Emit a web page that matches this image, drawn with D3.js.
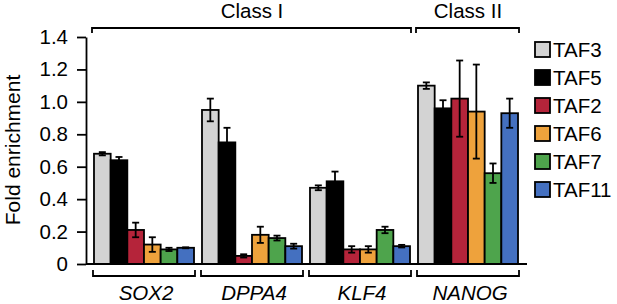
<!DOCTYPE html>
<html>
<head>
<meta charset="utf-8">
<script src="https://cdn.jsdelivr.net/npm/d3@7"></script>
<style>
  body { margin: 0; background: #fff; }
  svg text { font-family: "Liberation Sans", Arial, Helvetica, sans-serif; fill: #000; }
</style>
</head>
<body>
<div id="chart"></div>
<script>
// genes and class groups
const genes = ["SOX2", "DPPA4", "KLF4", "NANOG"];
const classes = [
    {name: "Class I", genes: ["SOX2", "DPPA4", "KLF4"]},
    {name: "Class II", genes: ["NANOG"]}
];
const series = ["TAF3", "TAF5", "TAF2", "TAF6", "TAF7", "TAF11"];
const colors = ["#d3d3d3", "#000000", "#b5243a", "#eea23c", "#4ea44c", "#4470c0"];

// values per gene, in series order
const values = {
    SOX2:  [0.68, 0.64, 0.21, 0.12, 0.09, 0.10],
    DPPA4: [0.95, 0.75, 0.05, 0.18, 0.16, 0.11],
    KLF4:  [0.47, 0.51, 0.09, 0.09, 0.21, 0.11],
    NANOG: [1.10, 0.96, 1.02, 0.94, 0.56, 0.93]
};
const errors = {
    SOX2:  [0.010, 0.020, 0.045, 0.045, 0.010, 0.003],
    DPPA4: [0.070, 0.090, 0.010, 0.050, 0.015, 0.015],
    KLF4:  [0.015, 0.060, 0.020, 0.020, 0.020, 0.008],
    NANOG: [0.020, 0.050, 0.235, 0.290, 0.060, 0.090]
};
const yTicks = [0, 0.2, 0.4, 0.6, 0.8, 1.0, 1.2, 1.4];

const width = 617, height = 304;
const fs = "20.5px";
const sw = 1.8;   // line weight

const svg = d3.select("#chart")
    .append("svg")
    .attr("width", width)
    .attr("height", height);

// scales
const x = d3.scaleBand()
    .domain(genes)
    .range([86, 526])
    .padding(0.074);

const xInner = d3.scaleBand()
    .domain(series)
    .range([0, x.bandwidth()]);

const y = d3.scaleLinear()
    .domain([0, 1.4])
    .range([264, 37]);

const color = d3.scaleOrdinal()
    .domain(series)
    .range(colors);

// y axis
const yAxis = d3.axisLeft(y)
    .tickValues(yTicks)
    .tickSize(9)
    .tickSizeOuter(0)
    .tickPadding(9)
    .tickFormat(d => d === 0 ? "0" : d3.format(".1f")(d));

const gy = svg.append("g")
    .attr("class", "y-axis")
    .attr("transform", "translate(86,0)")
    .call(yAxis);

gy.selectAll("path, line").attr("stroke", "#000").attr("stroke-width", sw);
gy.selectAll("text")
    .style("font-size", fs)
    .attr("fill", "#000");

svg.append("text")
    .attr("transform", "translate(20,150) rotate(-90)")
    .attr("text-anchor", "middle")
    .style("font-size", "21px")
    .text("Fold enrichment");

// flatten data
const flat = [];
genes.forEach(g => {
    series.forEach((s, i) => {
        flat.push({gene: g, key: s, value: values[g][i], err: errors[g][i]});
    });
});

// bars
svg.selectAll(".bar")
    .data(flat)
    .enter()
    .append("rect")
    .attr("class", "bar")
    .attr("x", d => x(d.gene) + xInner(d.key))
    .attr("y", d => y(d.value))
    .attr("width", xInner.bandwidth())
    .attr("height", d => y(0) - y(d.value))
    .attr("fill", d => color(d.key))
    .attr("stroke", "#000")
    .attr("stroke-width", sw);

// error bars
const cap = 3.5;
const cx = d => x(d.gene) + xInner(d.key) + xInner.bandwidth() / 2;
const eb = svg.selectAll(".err")
    .data(flat)
    .enter()
    .append("g")
    .attr("class", "err")
    .attr("stroke", "#000")
    .attr("stroke-width", sw);

eb.append("line")
    .attr("x1", cx)
    .attr("x2", cx)
    .attr("y1", d => y(d.value + d.err))
    .attr("y2", d => y(d.value - d.err));

eb.append("line")
    .attr("x1", d => cx(d) - cap)
    .attr("x2", d => cx(d) + cap)
    .attr("y1", d => y(d.value + d.err))
    .attr("y2", d => y(d.value + d.err));

eb.append("line")
    .attr("x1", d => cx(d) - cap)
    .attr("x2", d => cx(d) + cap)
    .attr("y1", d => y(d.value - d.err))
    .attr("y2", d => y(d.value - d.err));

// baseline
svg.append("line")
    .attr("x1", 86)
    .attr("x2", 527)
    .attr("y1", y(0))
    .attr("y2", y(0))
    .attr("stroke", "#000")
    .attr("stroke-width", sw);

// gene brackets under axis
const bracketY = 276;
const gb = svg.selectAll(".gene-bracket")
    .data(genes)
    .enter()
    .append("g")
    .attr("class", "gene-bracket");

gb.append("path")
    .attr("d", g => {
        let x0 = x(g) - 1, x1 = x(g) + x.bandwidth() + 1;
        return `M${x0},${bracketY - 6}V${bracketY}H${x1}V${bracketY - 6}`;
    })
    .attr("fill", "none")
    .attr("stroke", "#000")
    .attr("stroke-width", sw);

gb.append("text")
    .attr("x", g => x(g) + x.bandwidth() / 2 + 2)
    .attr("y", 300)
    .attr("text-anchor", "middle")
    .style("font-size", fs)
    .style("font-style", "italic")
    .text(g => g);

// class brackets on top
const topY = 28;
const cb = svg.selectAll(".class-bracket")
    .data(classes)
    .enter()
    .append("g")
    .attr("class", "class-bracket");

cb.append("path")
    .attr("d", c => {
        let first = c.genes[0], last = c.genes[c.genes.length - 1];
        let x0 = x(first) - 2, x1 = x(last) + x.bandwidth() + 1;
        return `M${x0},${topY + 5}V${topY}H${x1}V${topY + 5}`;
    })
    .attr("fill", "none")
    .attr("stroke", "#000")
    .attr("stroke-width", sw);

cb.append("text")
    .attr("x", c => {
        let first = c.genes[0], last = c.genes[c.genes.length - 1];
        return (x(first) + x(last) + x.bandwidth()) / 2;
    })
    .attr("y", 18)
    .attr("text-anchor", "middle")
    .style("font-size", fs)
    .text(c => c.name);

// legend
const legend = svg.append("g")
    .attr("class", "legend")
    .attr("transform", "translate(535,42)");

const li = legend.selectAll(".item")
    .data(series)
    .enter()
    .append("g")
    .attr("class", "item")
    .attr("transform", (d, i) => `translate(0,${i * 28})`);

li.append("rect")
    .attr("width", 15)
    .attr("height", 15)
    .attr("fill", d => color(d))
    .attr("stroke", "#000")
    .attr("stroke-width", sw);

li.append("text")
    .attr("x", 18)
    .attr("y", 15)
    .style("font-size", fs)
    .text(d => d);
</script>
</body>
</html>
